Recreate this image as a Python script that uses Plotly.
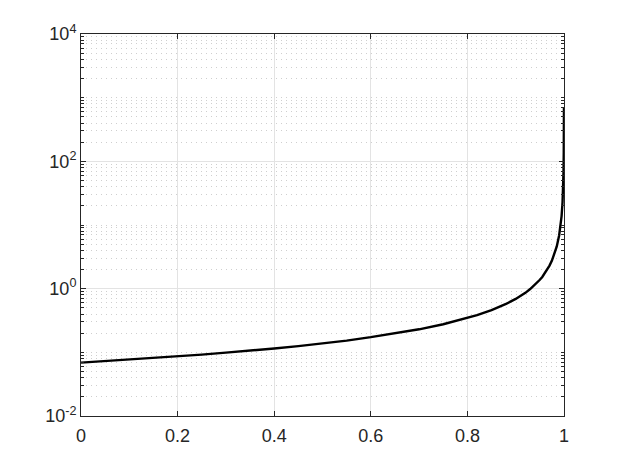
import plotly.graph_objects as go

# values
x = [0, 0.05, 0.1, 0.15, 0.2, 0.25, 0.3, 0.35, 0.4, 0.45, 0.5, 0.55, 0.6,
     0.65, 0.7, 0.75, 0.8, 0.82, 0.85, 0.87, 0.88, 0.9, 0.91, 0.92, 0.93,
     0.94, 0.95, 0.955, 0.96, 0.965, 0.97, 0.975, 0.98, 0.985, 0.99, 0.993,
     0.995, 0.997, 0.998, 0.999, 0.9995, 0.9998, 0.9999]
y = [0.069, 0.073, 0.077, 0.081, 0.086, 0.092, 0.099, 0.106, 0.115, 0.125,
     0.138, 0.153, 0.173, 0.197, 0.23, 0.276, 0.345, 0.383, 0.46, 0.53,
     0.575, 0.69, 0.767, 0.86, 0.986, 1.15, 1.38, 1.53, 1.73, 1.97, 2.3,
     2.76, 3.45, 4.6, 6.9, 9.9, 13.8, 23, 34.5, 69, 138, 345, 690]

y_ticks = [1e-2, 1e0, 1e2, 1e4]
y_ticktext = ["10<sup>-2</sup>", "10<sup>0</sup>", "10<sup>2</sup>", "10<sup>4</sup>"]
x_ticks = [0, 0.2, 0.4, 0.6, 0.8, 1]
x_ticktext = ["0", "0.2", "0.4", "0.6", "0.8", "1"]

# minor decades 2..9 x 10^n plus the odd decades
minor_y = []
for n in range(-2, 4):
    for k in range(1, 10):
        v = k * 10 ** n
        if v not in y_ticks:
            minor_y.append(v)

axcol = "#262626"
fig = go.Figure()
fig.add_trace(go.Scatter(x=x, y=y, mode="lines",
                         line=dict(color="black", width=2.4)))

# page body has an 8px margin, so the figure is a bit smaller than the window
fig.update_layout(
    width=615, height=459,
    paper_bgcolor="white", plot_bgcolor="white",
    margin=dict(l=73, r=59, t=26, b=51),
    showlegend=False,
    font=dict(family="Liberation Sans, Arial, sans-serif", size=18, color=axcol),
)
fig.update_xaxes(
    range=[0, 1], tickvals=x_ticks, ticktext=x_ticktext,
    showline=True, linecolor=axcol, linewidth=1, mirror="ticks",
    ticks="inside", ticklen=5, tickcolor=axcol, ticklabelstandoff=3,
    showgrid=True, gridcolor="#e3e3e3", gridwidth=1, zeroline=False,
)
fig.update_yaxes(
    type="log", range=[-2, 4], tickvals=y_ticks, ticktext=y_ticktext,
    showline=True, linecolor=axcol, linewidth=1, mirror="ticks",
    ticks="inside", ticklen=5, tickcolor=axcol,
    showgrid=True, gridcolor="#e3e3e3", gridwidth=1, zeroline=False,
    minor=dict(tickvals=minor_y, ticks="inside", ticklen=3, tickcolor=axcol,
               showgrid=True, gridcolor="#cfcfcf", griddash="1px,4px", gridwidth=1),
)

fig.write_html("out.html")
